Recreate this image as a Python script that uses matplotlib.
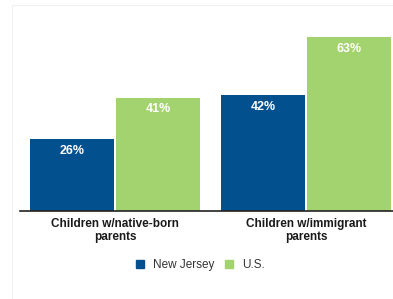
import numpy as np
import matplotlib
matplotlib.use('Agg')
import matplotlib.pyplot as plt
from matplotlib.patches import Patch

groups = ['Children w/native-born\nparents', 'Children w/immigrant\nparents']
series = ['New Jersey', 'U.S.']
nj = [26, 42]
us = [41, 63]
colors = ['#03508f', '#a3d36e']

FONT = ['Liberation Sans Narrow', 'Liberation Sans', 'DejaVu Sans']

fig = plt.figure(figsize=(3.93, 2.99), dpi=100)
# faint frame of the original card
fig.add_artist(plt.Line2D([12/393, 12/393], [0, 1 - 5/299], color='#f0f0f0', lw=0.8))
fig.add_artist(plt.Line2D([12/393, 1], [1 - 5/299, 1 - 5/299], color='#f0f0f0', lw=0.8))

ax = fig.add_axes([20/393, 88/299, 373/393, 193.3/299])
x = np.arange(len(groups))
off, w = 0.225, 0.44
b1 = ax.bar(x - off, nj, w, color=colors[0], label=series[0])
b2 = ax.bar(x + off, us, w, color=colors[1], label=series[1])
for bars, vals in ((b1, nj), (b2, us)):
    for b, v in zip(bars, vals):
        ax.annotate(f'{v}%', (b.get_x() + b.get_width() / 2, v),
                    xytext=(0, -4), textcoords='offset points',
                    ha='center', va='top', color='white', fontsize=9,
                    weight='bold', family=['Liberation Sans', 'DejaVu Sans'])

ax.set_xlim(-0.497, 1.455)
ax.set_ylim(0, 70)
ax.set_xticks(x)
ax.set_xticklabels(groups, fontsize=8.5, weight='bold', family=FONT,
                   linespacing=1.15, color='#1a1a1a')
ax.tick_params(axis='x', length=0, pad=5)
ax.set_yticks([])
for s in ('top', 'right', 'left'):
    ax.spines[s].set_visible(False)
ax.spines['bottom'].set_linewidth(1.2)
ax.spines['bottom'].set_color('#222222')

handles = [Patch(color=c) for c in colors]
leg = fig.legend(handles, series, loc='center', bbox_to_anchor=(200/393, 1 - 265/299),
                 ncol=2, frameon=False, handlelength=0.75, handleheight=0.75,
                 handletextpad=0.7, columnspacing=0.9,
                 prop={'family': FONT, 'size': 8.5})
for t in leg.get_texts():
    t.set_color('#333333')

fig.savefig('out.png', dpi=100)
